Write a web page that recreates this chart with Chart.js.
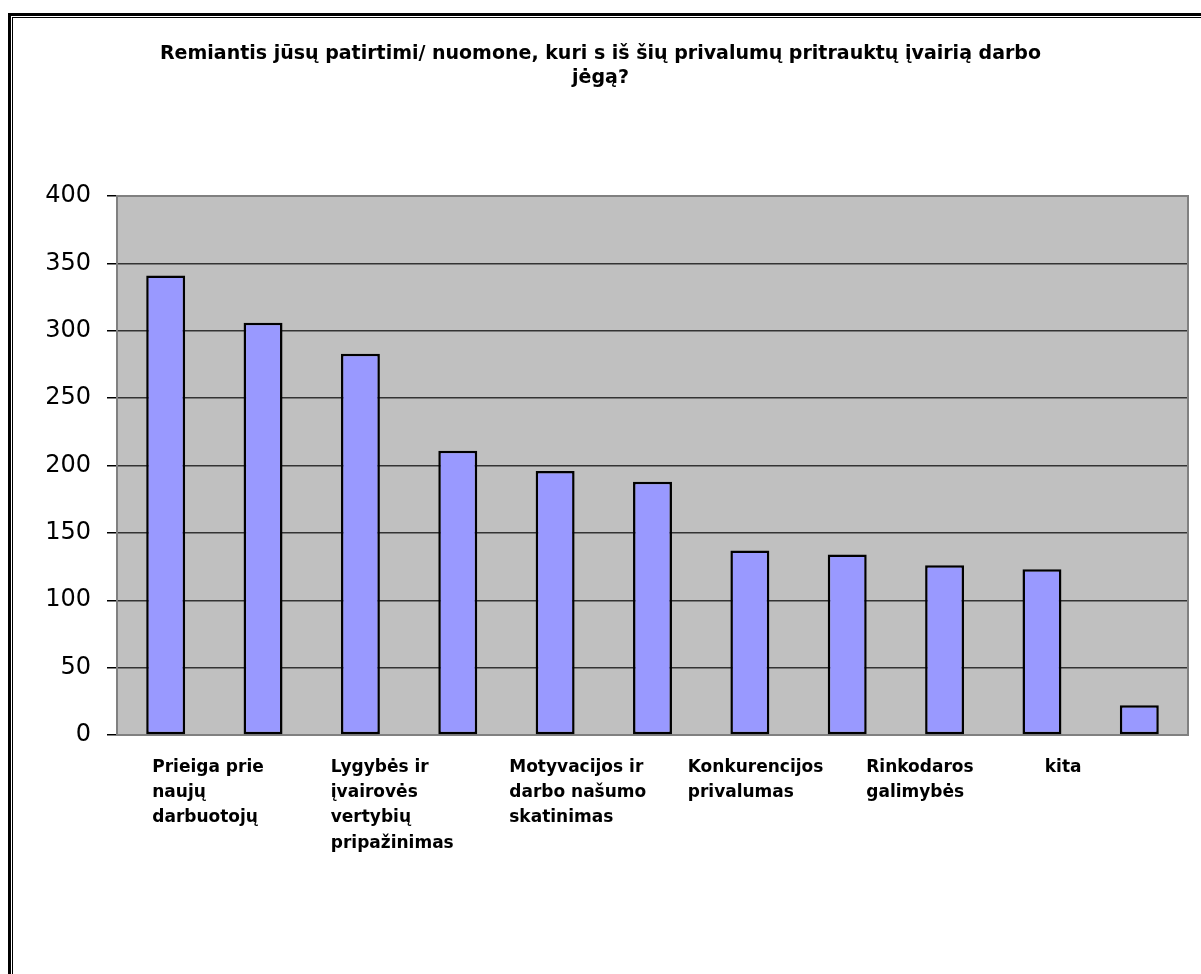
<!DOCTYPE html>
<html><head><meta charset="utf-8">
<script src="https://cdn.jsdelivr.net/npm/chart.js@4.4.1/dist/chart.umd.min.js"></script>
<style>
html,body{margin:0;padding:0;background:#fff;overflow:hidden;width:1201px;height:974px;}
#frame1{position:absolute;left:8px;top:13px;width:1400px;height:1200px;border:3px solid #000;box-sizing:border-box;}
#frame2{position:absolute;left:12px;top:17px;width:1400px;height:1200px;border:1px solid #000;box-sizing:border-box;}
#wrap{position:absolute;left:0;top:0;width:1201px;height:974px;}
</style></head><body>
<div id="frame1"></div><div id="frame2"></div>
<div id="wrap"><canvas id="c" width="1201" height="974"></canvas></div>
<script>
const titleLines = [
  "Remiantis jūsų patirtimi/ nuomone, kuri s iš šių privalumų pritrauktų įvairią darbo",
  "jėgą?"
];
// 11 categories; only every other label is shown on the axis (others unreadable)
const categories = [
  ["Prieiga prie", "naujų", "darbuotojų"],
  "",
  ["Lygybės ir", "įvairovės", "vertybių", "pripažinimas"],
  "",
  ["Motyvacijos ir", "darbo našumo", "skatinimas"],
  "",
  ["Konkurencijos", "privalumas"],
  "",
  ["Rinkodaros", "galimybės"],
  "",
  ["kita"]
];
const values = [341, 306, 283, 211, 196, 188, 137, 134, 126, 123, 22];
const yMin = 0, yMax = 400, yStep = 50;

const shownLabels = categories.filter((_, i) => i % 2 === 0);

const plotArea = {
  id: 'plotArea',
  beforeDraw(chart) {
    const {ctx, chartArea: a} = chart;
    ctx.save();
    ctx.fillStyle = '#C0C0C0';
    ctx.fillRect(a.left, a.top, a.right - a.left, a.bottom - a.top);
    ctx.restore();
  },
  beforeDatasetsDraw(chart) {
    const {ctx, chartArea: a} = chart;
    ctx.save();
    ctx.strokeStyle = '#808080';
    ctx.lineWidth = 2;
    ctx.strokeRect(a.left, a.top, a.right - a.left, a.bottom - a.top);
    ctx.restore();
  }
};

new Chart(document.getElementById('c'), {
  type: 'bar',
  data: {
    labels: categories.map((c, i) => String(i)),
    datasets: [{
      data: values,
      backgroundColor: '#9999FF',
      borderColor: '#000000',
      borderWidth: 2.5,
      borderSkipped: false,
      barPercentage: 0.4,
      categoryPercentage: 1.0,
      xAxisID: 'x'
    }]
  },
  options: {
    responsive: false,
    animation: false,
    devicePixelRatio: 1,
    layout: { padding: { left: 13, right: 13, top: 0, bottom: 0 } },
    plugins: {
      legend: { display: false },
      tooltip: { enabled: false },
      title: {
        display: true,
        text: titleLines,
        color: '#000',
        font: { family: 'DejaVu Sans', size: 19, weight: 'bold', lineHeight: 1.25 },
        padding: { top: 42, bottom: 106.5 }
      }
    },
    scales: {
      x: { display: false },
      x2: {
        type: 'category',
        labels: shownLabels,
        position: 'bottom',
        offset: true,
        grid: { display: false, drawTicks: false },
        border: { display: false },
        ticks: {
          align: 'start',
          labelOffset: -54,
          padding: 19.5,
          autoSkip: false,
          maxRotation: 0,
          minRotation: 0,
          color: '#000',
          font: { family: 'DejaVu Sans', weight: 'bold', size: 17, lineHeight: 1.49 }
        },
        afterFit(s) { s.height = 239; }
      },
      y: {
        min: yMin,
        max: yMax,
        ticks: {
          stepSize: yStep,
          padding: 16,
          color: '#000',
          font: { family: 'DejaVu Sans', size: 24 }
        },
        grid: { color: '#333333', lineWidth: 1.5, tickColor: '#000', tickLength: 10 },
        border: { display: false },
        afterFit(s) { s.width = 104; }
      }
    }
  },
  plugins: [plotArea]
});
</script>
</body></html>
